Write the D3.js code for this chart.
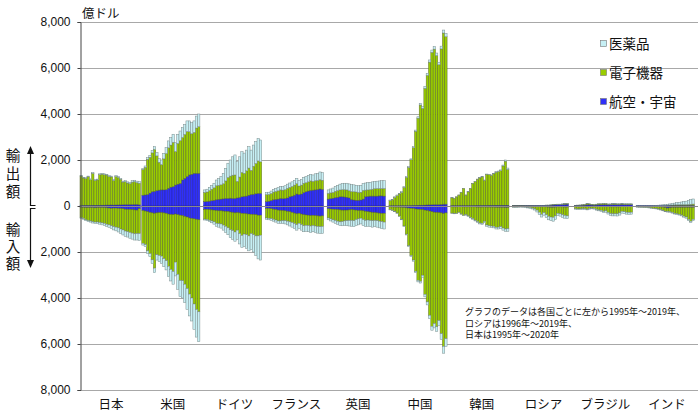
<!DOCTYPE html>
<html><head><meta charset="utf-8">
<script src="https://cdn.jsdelivr.net/npm/d3@7"></script>
<style>body{margin:0;background:#fff}svg{display:block}</style>
</head><body>
<svg id="chart" width="700" height="412"></svg>
<script>
// ---- categories / labels ----
const countries = ["日本","米国","ドイツ","フランス","英国","中国","韓国","ロシア","ブラジル","インド"];
const seriesNames = ["医薬品","電子機器","航空・宇宙"];
const yTickValues = [-8000,-6000,-4000,-2000,0,2000,4000,6000,8000];
const unitLabel = "億ドル";
const exportLabel = "輸出額";
const importLabel = "輸入額";
const noteLines = ["グラフのデータは各国ごとに左から1995年～2019年、","ロシアは1996年～2019年、","日本は1995年～2020年"];

// ---- values (億ドル) : exports / imports by category, each year left to right ----
// 日本 1995-2020
const jp_exp_aero  = [20,20,25,25,25,30,30,30,30,35,35,40,40,45,40,45,45,50,55,60,60,65,65,70,70,50];
const jp_exp_elec  = [1280,1200,1175,1245,1125,1385,1085,1105,1335,1350,1330,1305,1245,1220,1070,1235,1195,1110,985,1000,940,910,975,990,945,940];
const jp_exp_pharm = [30,30,30,30,30,35,35,35,35,35,35,35,35,35,40,40,40,40,40,40,50,55,60,60,65,70];
const jp_imp_aero  = [60,60,70,70,70,70,80,70,70,70,70,80,90,100,90,90,100,110,120,140,150,150,160,170,180,120];
const jp_imp_elec  = [450,485,530,565,580,615,620,625,645,665,685,710,730,760,810,830,850,890,920,950,970,1000,1020,1040,1020,1080];
const jp_imp_pharm = [30,35,40,45,50,55,60,65,75,85,95,100,110,120,140,160,180,200,220,230,230,250,260,270,280,300];
// 米国 1995-2019
const us_exp_aero  = [470,480,500,560,620,640,670,690,700,700,710,770,820,840,910,950,980,1130,1200,1280,1350,1380,1420,1420,1420];
const us_exp_elec  = [1120,1200,1530,1560,1690,1820,1510,1210,1100,1350,1570,1760,1830,1930,1460,1770,1860,1850,1910,1960,1880,1760,1780,1970,2030];
const us_exp_pharm = [50,60,70,80,100,120,140,160,200,240,260,300,320,350,380,400,420,430,440,460,470,480,500,520,550];
const us_imp_aero  = [200,220,250,280,300,320,300,290,290,300,320,350,370,380,350,380,400,420,450,480,520,540,560,580,600];
const us_imp_elec  = [1420,1460,1700,1790,2040,2380,1820,1860,1890,1990,2060,2270,2390,2470,2090,2590,2840,2830,2950,3110,3310,3460,3700,3920,4000];
const us_imp_pharm = [80,90,110,130,160,200,230,270,320,350,400,450,500,550,600,650,700,750,800,900,950,1000,1100,1200,1300];
// ドイツ
const de_exp_aero  = [190,200,210,230,250,270,290,300,310,330,330,340,330,330,350,370,400,420,430,470,500,510,530,550,550];
const de_exp_elec  = [400,410,460,500,540,610,610,620,660,760,910,960,1010,1020,720,890,1060,1000,1100,1180,1050,1220,1320,1410,1370];
const de_exp_pharm = [110,120,140,160,200,250,300,360,450,550,620,700,800,870,860,880,900,880,900,930,880,920,950,980,950];
const de_imp_aero  = [150,150,160,170,180,200,210,210,220,230,240,260,280,300,290,300,320,330,340,350,360,370,380,400,400];
const de_imp_elec  = [420,440,460,480,510,550,560,570,610,650,710,770,790,830,760,900,960,890,910,950,840,880,920,900,870];
const de_imp_pharm = [40,50,60,80,100,130,150,180,220,270,300,350,380,400,400,450,520,550,600,650,700,750,850,1000,1080];
// フランス
const fr_exp_aero  = [190,210,240,270,290,300,330,320,330,350,400,430,470,520,500,520,580,620,650,680,690,700,720,740,720];
const fr_exp_elec  = [300,295,305,335,345,360,370,370,380,420,410,420,440,450,370,390,410,390,400,410,380,400,390,400,400];
const fr_exp_pharm = [90,95,105,115,125,140,150,160,170,180,190,200,210,230,230,240,260,270,280,290,280,300,310,340,330];
const fr_imp_aero  = [100,110,120,140,160,180,190,200,210,230,250,280,310,340,320,350,380,390,400,420,410,420,430,440,430];
const fr_imp_elec  = [420,425,430,440,450,470,460,440,430,430,440,440,450,470,430,460,480,450,450,450,440,450,460,460,460];
const fr_imp_pharm = [60,65,70,80,90,100,110,120,140,160,180,200,220,240,230,240,260,260,270,280,270,280,290,300,300];
// 英国
const uk_exp_aero  = [300,320,340,360,380,400,400,390,380,350,280,260,250,250,260,300,400,420,430,430,430,430,440,440,430];
const uk_exp_elec  = [250,250,250,280,290,300,310,320,320,310,350,360,360,340,340,380,290,280,280,300,320,330,320,320,330];
const uk_exp_pharm = [150,170,190,210,230,250,270,280,290,300,300,300,290,290,300,300,310,320,320,320,320,320,330,340,340];
const uk_imp_aero  = [120,130,140,150,160,170,180,180,180,170,160,170,180,200,200,210,230,250,260,280,290,300,310,320,320];
const uk_imp_elec  = [400,430,460,480,500,520,500,470,460,460,470,470,410,360,330,380,400,360,370,360,340,340,350,360,380];
const uk_imp_pharm = [80,90,100,120,140,160,180,200,220,240,250,260,260,260,250,260,270,270,270,280,270,280,290,300,300];
// 中国
const cn_exp_aero  = [5,5,5,5,5,10,10,10,10,15,20,25,30,35,35,40,45,50,55,60,60,60,70,80,80];
const cn_exp_elec  = [235,265,370,450,520,580,800,1235,1665,1995,2515,3225,3790,4355,4210,5075,5635,6205,6625,6760,6480,6080,6760,7440,7280];
const cn_exp_pharm = [20,20,25,25,25,30,30,35,35,40,45,50,60,70,75,85,90,95,100,110,110,110,120,130,140];
const cn_imp_aero  = [40,40,45,50,50,60,70,80,90,100,110,130,140,150,160,180,200,220,250,270,280,290,300,330,300];
const cn_imp_elec  = [120,150,190,255,390,515,800,1145,1640,2055,2240,2710,3090,3120,2850,3660,3970,4530,4980,4840,4970,4690,5250,5770,5470];
const cn_imp_pharm = [10,10,15,15,20,25,30,35,40,45,50,60,70,80,90,110,130,150,170,190,200,220,250,300,330];
// 韓国
const kr_exp_aero  = [10,10,10,10,10,10,10,10,10,15,15,20,20,20,20,20,25,25,25,30,30,30,30,30,30];
const kr_exp_elec  = [345,315,385,465,585,755,465,605,755,970,1040,1145,1200,1250,1100,1360,1340,1310,1375,1440,1470,1510,1710,1920,1560];
const kr_exp_pharm = [5,5,5,5,5,5,5,5,5,5,5,5,10,10,10,10,15,15,20,20,20,30,40,50,60];
const kr_imp_aero  = [40,40,40,30,30,40,40,40,40,40,40,50,50,50,40,50,50,50,50,60,60,60,60,70,70];
const kr_imp_elec  = [270,290,280,240,315,365,340,390,455,510,575,630,685,700,630,775,810,820,830,870,860,840,900,930,920];
const kr_imp_pharm = [10,10,10,10,15,15,20,20,25,30,35,40,45,50,50,55,60,60,70,70,80,80,90,100,110];
// ロシア 1996-2019
const ru_exp_aero  = [10,10,10,10,10,15,15,10,10,15,15,15,15,15,20,20,30,40,50,60,60,70,70,80];
const ru_exp_elec  = [8,8,8,8,8,8,8,12,12,12,12,12,12,12,16,16,15,15,15,14,14,13,22,22];
const ru_exp_pharm = [2,2,2,2,2,2,2,3,3,3,3,3,3,3,4,4,5,5,5,6,6,7,8,8];
const ru_imp_aero  = [5,5,5,5,5,5,5,10,10,15,20,30,40,30,40,50,60,60,50,40,40,40,50,50];
const ru_imp_elec  = [40,40,30,25,30,40,50,60,80,110,160,240,320,260,340,400,420,430,380,280,300,340,360,380];
const ru_imp_pharm = [20,20,20,20,20,25,30,35,40,50,80,100,120,110,130,150,160,170,150,100,100,110,120,120];
// ブラジル
const br_exp_aero  = [10,10,15,20,30,50,50,40,30,40,50,50,60,60,50,50,60,60,60,60,70,60,60,60,60];
const br_exp_elec  = [20,25,25,30,35,45,40,30,30,35,40,40,40,40,30,30,30,30,25,25,25,25,25,25,25];
const br_exp_pharm = [3,3,3,3,4,4,4,4,5,5,6,7,8,9,10,10,11,12,12,12,12,12,12,12,12];
const br_imp_aero  = [20,20,20,20,20,20,20,15,15,15,20,20,30,30,30,40,40,40,40,40,30,30,30,30,30];
const br_imp_elec  = [100,110,110,100,100,120,90,80,90,130,150,170,200,180,250,290,300,300,300,260,200,220,240,250,240];
const br_imp_pharm = [20,25,30,30,30,30,30,30,30,35,40,45,55,60,70,80,90,90,95,95,80,80,85,85,85];
// インド
const in_exp_aero  = [2,2,2,2,2,2,2,3,3,3,5,5,5,8,10,10,10,12,15,15,15,15,15,15,15];
const in_exp_elec  = [5,5,5,5,5,8,8,8,10,12,15,18,20,25,30,35,40,40,40,40,45,45,50,60,70];
const in_exp_pharm = [5,5,6,7,8,10,12,14,16,20,24,30,35,40,50,60,75,90,100,120,140,150,170,200,220];
const in_imp_aero  = [10,10,10,10,10,15,15,20,25,30,40,50,70,90,80,60,60,60,60,60,60,60,60,60,60];
const in_imp_elec  = [30,35,40,45,50,60,70,80,90,100,120,140,160,150,170,220,260,280,300,330,380,420,520,600,520];
const in_imp_pharm = [10,10,10,10,10,10,10,12,12,15,15,20,20,25,25,30,30,35,35,40,45,50,55,60,60];

// ---- table built from the arrays ----
const countryArrays = [
  [jp_exp_aero,jp_exp_elec,jp_exp_pharm,jp_imp_aero,jp_imp_elec,jp_imp_pharm],
  [us_exp_aero,us_exp_elec,us_exp_pharm,us_imp_aero,us_imp_elec,us_imp_pharm],
  [de_exp_aero,de_exp_elec,de_exp_pharm,de_imp_aero,de_imp_elec,de_imp_pharm],
  [fr_exp_aero,fr_exp_elec,fr_exp_pharm,fr_imp_aero,fr_imp_elec,fr_imp_pharm],
  [uk_exp_aero,uk_exp_elec,uk_exp_pharm,uk_imp_aero,uk_imp_elec,uk_imp_pharm],
  [cn_exp_aero,cn_exp_elec,cn_exp_pharm,cn_imp_aero,cn_imp_elec,cn_imp_pharm],
  [kr_exp_aero,kr_exp_elec,kr_exp_pharm,kr_imp_aero,kr_imp_elec,kr_imp_pharm],
  [ru_exp_aero,ru_exp_elec,ru_exp_pharm,ru_imp_aero,ru_imp_elec,ru_imp_pharm],
  [br_exp_aero,br_exp_elec,br_exp_pharm,br_imp_aero,br_imp_elec,br_imp_pharm],
  [in_exp_aero,in_exp_elec,in_exp_pharm,in_imp_aero,in_imp_elec,in_imp_pharm]
];
const rows = [];
countries.forEach((c, ci) => {
  const a = countryArrays[ci];
  a[0].forEach((_, i) => {
    rows.push({country:c, idx:i,
      aero:a[0][i], elec:a[1][i], pharm:a[2][i],
      iaero:-a[3][i], ielec:-a[4][i], ipharm:-a[5][i]});
  });
});

// ---- drawing ----
const svg = d3.select("#chart");
const plotL = 80, plotR = 698, plotT = 22, plotB = 390;
const FONT = "'Liberation Sans', Arial, 'Noto Sans CJK JP', sans-serif";
const JFONT = "'Noto Sans CJK JP', 'Liberation Sans', sans-serif";

const x = d3.scaleBand().domain(countries).range([plotL, plotR]).padding(0);
const slotBars = 26.6;
const xi = d3.scaleLinear().domain([0, slotBars]).range([0, x.bandwidth()]);
const bw = xi(1) - xi(0);
const y = d3.scaleLinear().domain([-8000, 8000]).range([plotB, plotT]);

const colors = {pharm:"#c6eff4", elec:"#99cc00", aero:"#3030f8"};
const strokes = {pharm:"#7a8c8c", elec:"#5e6e2a", aero:"#2424a8"};

// gridlines
svg.append("g").selectAll("line").data(yTickValues).join("line")
  .attr("x1", plotL).attr("x2", plotR)
  .attr("y1", d => y(d) + 0.5).attr("y2", d => y(d) + 0.5)
  .attr("stroke", "#a8a8a8").attr("stroke-width", 1);

// stacks
const expStack = d3.stack().keys(["aero","elec","pharm"])(rows);
const impStack = d3.stack().keys(["iaero","ielec","ipharm"]).offset(d3.stackOffsetDiverging)(rows);
const keyMap = {iaero:"aero", ielec:"elec", ipharm:"pharm", aero:"aero", elec:"elec", pharm:"pharm"};

const barsG = svg.append("g");
[...expStack, ...impStack].forEach(layer => {
  const k = keyMap[layer.key];
  barsG.append("g").selectAll("rect").data(layer).join("rect")
    .attr("x", d => x(d.data.country) + xi(d.data.idx))
    .attr("width", bw)
    .attr("y", d => y(Math.max(d[0], d[1])))
    .attr("height", d => Math.abs(y(d[0]) - y(d[1])))
    .attr("fill", colors[k])
    .attr("stroke", strokes[k])
    .attr("stroke-width", 0.5);
});

// zero line over bars
svg.append("line").attr("x1", plotL).attr("x2", plotR)
  .attr("y1", y(0) + 0.5).attr("y2", y(0) + 0.5)
  .attr("stroke", "#8a8a8a").attr("stroke-width", 1);

// y axis
const yAxis = d3.axisLeft(y).tickValues(yTickValues).tickSize(3)
  .tickFormat(d => d3.format(",")(Math.abs(d)));
const ag = svg.append("g").attr("transform", `translate(${plotL + 0.5},0)`).call(yAxis);
ag.select(".domain").attr("stroke", "#444");
ag.selectAll(".tick line").attr("stroke", "#444");
ag.selectAll(".tick text").attr("font-family", FONT).attr("font-size", 12).attr("fill", "#111").attr("x", -10);

// x labels
svg.append("g").selectAll("text").data(countries).join("text")
  .attr("x", d => x(d) + x.bandwidth() / 2)
  .attr("y", 409)
  .attr("text-anchor", "middle")
  .attr("font-family", JFONT).attr("font-size", 12.5).attr("fill", "#111")
  .text(d => d);

// unit
svg.append("text").attr("x", 82).attr("y", 18).attr("font-family", JFONT)
  .attr("font-size", 12.5).attr("fill", "#111").text(unitLabel);

// export / import annotation (vertical text)
const ann = svg.append("g").attr("font-family", JFONT).attr("font-size", 14.5).attr("fill", "#111");
ann.append("text").attr("x", 13).attr("y", 148).style("writing-mode", "vertical-rl")
  .attr("letter-spacing", 3.5).text(exportLabel);
ann.append("text").attr("x", 13).attr("y", 222).style("writing-mode", "vertical-rl")
  .attr("letter-spacing", 2.5).text(importLabel);
const arrowG = svg.append("g").attr("stroke", "#111").attr("stroke-width", 1.2).attr("fill", "none");
arrowG.append("path").attr("d", "M35.5,205.5 H30.5 V152");
arrowG.append("path").attr("d", "M35.5,208.5 H30.5 V262");
svg.append("path").attr("d", "M30.5,146 L27,154 L34,154 Z").attr("fill", "#111");
svg.append("path").attr("d", "M30.5,268 L27,260 L34,260 Z").attr("fill", "#111");

// legend
const legendKeys = ["pharm","elec","aero"];
const lg = svg.append("g");
seriesNames.forEach((name, i) => {
  const yy = 44 + i * 29;
  lg.append("rect").attr("x", 600.5).attr("y", yy - 3.5).attr("width", 6).attr("height", 6)
    .attr("fill", colors[legendKeys[i]]).attr("stroke", "#777").attr("stroke-width", 0.6);
  lg.append("text").attr("x", 609).attr("y", yy + 5).attr("font-family", JFONT)
    .attr("font-size", 13.5).attr("fill", "#111").text(name);
});

// note
svg.append("g").selectAll("text").data(noteLines).join("text")
  .attr("x", 465).attr("y", (d, i) => 315 + i * 11.5)
  .attr("font-family", JFONT).attr("font-size", 9).attr("fill", "#111")
  .text(d => d);
</script>
</body></html>
